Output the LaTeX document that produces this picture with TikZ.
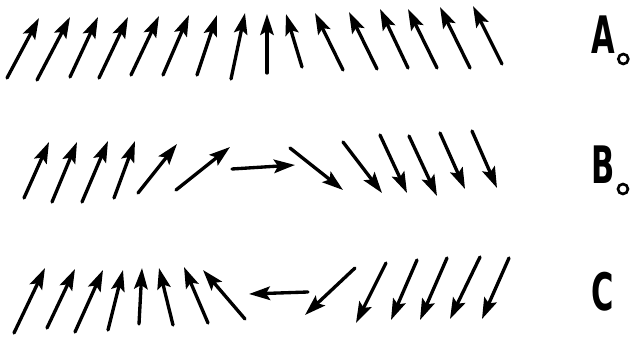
\documentclass[tikz,border=0pt]{standalone}
\usepackage{fontspec}
\usepackage{graphicx}
\newfontfamily\labelfont{DejaVu Sans}
\usetikzlibrary{arrows.meta}

\tikzset{spin/.style={line width=1.9pt, line cap=round, -{Stealth[length=4.2mm,width=2.7mm,inset=0.8mm]}},
	phase/.style={inner sep=0pt, anchor=base west, font=\labelfont\bfseries\fontsize{28}{28}\selectfont},
	sub/.style={line width=1.5pt}}

\begin{document}
\begin{tikzpicture}[x=0.02cm,y=-0.02cm]

	\useasboundingbox (0,0) rectangle (636,338);

	% row A
 \foreach \xa/\ya/\xb/\yb in {7/78/39/18, 37/80/70/17, 70/77/98/17, 99/78/128/17, 131/75/159/16, 163/75/189/15,
	197/75/217/15, 231/79/245/13, 267/73/267/14, 302/67/286/14, 343/70/315/13, 377/69/349/12,
	408/68/380/9, 437/68/408/9, 470/68/440/7, 502/64/473/6}
    \draw[spin] (\xa,\ya) -- (\xb,\yb);

	% row B
 \foreach \xa/\ya/\xb/\yb in {24/198/49/142, 52/202/77/142, 82/202/108/141, 114/198/135/141, 138/193/177/144,
	176/190/230/147, 232/169/295/165, 290/148/343/190, 343/142/382/193, 380/135/407/193,
	409/136/437/196, 440/133/465/189, 472/131/497/188}
    \draw[spin] (\xa,\ya) -- (\xb,\yb);

	% row C
 \foreach \xa/\ya/\xb/\yb in {14/333/45/268, 47/328/75/269, 75/332/103/270, 108/330/123/270, 139/324/142/268,
	173/325/159/268, 208/323/184/267, 245/319/203/270, 308/292/249/294, 355/268/305/315,
	386/263/356/323, 417/260/391/320, 447/258/420/320, 480/257/450/319, 509/258/482/319}
    \draw[spin] (\xa,\ya) -- (\xb,\yb);

	\node[phase] (A) at (591,53) {\scalebox{0.62}[1.05]{A}};
	\node[phase] (B) at (591,183) {\scalebox{0.62}[1.05]{B}};
	\node[phase] (C) at (591,310) {\scalebox{0.62}[1.05]{C}};
	\draw[sub] ([shift={(8,6)}]A.base east) circle (1mm);
	\draw[sub] ([shift={(8,6)}]B.base east) circle (1mm);

\end{tikzpicture}
\end{document}
